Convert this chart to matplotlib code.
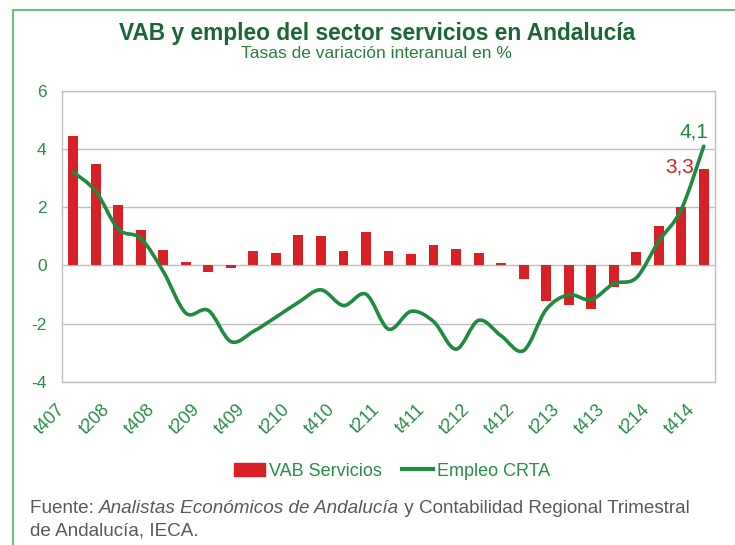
import numpy as np
import matplotlib
matplotlib.use('Agg')
import matplotlib.pyplot as plt
from matplotlib import font_manager
from matplotlib.path import Path
from matplotlib.patches import PathPatch, Rectangle, Patch
from matplotlib.lines import Line2D
from matplotlib.transforms import ScaledTranslation

# quarters t407 ... t414
quarters = ['t407'] + [f't{q}{y:02d}' for y in range(8, 15) for q in range(1, 5)]

vab = [4.46, 3.50, 2.09, 1.23, 0.54, 0.13, -0.24, -0.10, 0.51, 0.44,
       1.06, 1.02, 0.51, 1.16, 0.51, 0.40, 0.71, 0.57, 0.44, 0.09,
       -0.46, -1.22, -1.35, -1.49, -0.73, 0.47, 1.37, 2.00, 3.30]

empleo = [3.21, 2.55, 1.25, 0.93, -0.21, -1.64, -1.55, -2.62, -2.27, -1.78,
          -1.27, -0.84, -1.38, -0.99, -2.19, -1.58, -1.93, -2.88, -1.89, -2.42,
          -2.93, -1.52, -1.01, -1.18, -0.63, -0.43, 0.83, 1.92, 4.10]

yticks = [-4, -2, 0, 2, 4, 6]

RED = '#D82027'
GREEN = '#1E8B3F'
LABEL_GREEN = '#2A8C48'
TITLE_GREEN = '#1A6634'


def pick_font(names):
    for n in names:
        try:
            font_manager.findfont(n, fallback_to_default=False)
            return n
        except Exception:
            pass
    return 'DejaVu Sans'


sans = pick_font(['Liberation Sans', 'DejaVu Sans'])
plt.rcParams['font.family'] = sans


def smooth_path(x, y):
    # excel-like smoothed line: cubic bezier through every point
    n = len(x)
    verts = [(x[0], y[0])]
    codes = [Path.MOVETO]
    for i in range(n - 1):
        a = max(i - 1, 0)
        b = min(i + 2, n - 1)
        c1 = (x[i] + (x[i + 1] - x[a]) / 6, y[i] + (y[i + 1] - y[a]) / 6)
        c2 = (x[i + 1] - (x[b] - x[i]) / 6, y[i + 1] - (y[b] - y[i]) / 6)
        verts += [c1, c2, (x[i + 1], y[i + 1])]
        codes += [Path.CURVE4] * 3
    return Path(verts, codes)


fig = plt.figure(figsize=(7.35, 5.45), dpi=100)
ax = fig.add_axes([62 / 735, 1 - 381.7 / 545, 653 / 735, 290.7 / 545])

x = np.arange(len(quarters))
ax.bar(x, vab, width=0.44, color=RED, zorder=2)
ax.add_patch(PathPatch(smooth_path(x, empleo), fill=False, edgecolor=GREEN,
                       lw=2.6, zorder=3, capstyle='round'))

ax.set_xlim(-0.5, len(quarters) - 0.5)
ax.set_ylim(-4, 6)
ax.set_yticks(yticks)
ax.set_yticklabels([str(t) for t in yticks])
ax.grid(axis='y', color='#BFBFBF', lw=1, zorder=0)
ax.set_axisbelow(True)
for s in ax.spines.values():
    s.set_color('#BFBFBF')
    s.set_linewidth(1)

ax.tick_params(axis='y', length=0, pad=11, labelsize=12.5, labelcolor=LABEL_GREEN)
ax.tick_params(axis='x', length=0, pad=14, labelsize=13, labelcolor=LABEL_GREEN)
ax.set_xticks(x[::2])
ax.set_xticklabels(quarters[::2], rotation=45, ha='right', va='top')
shift = ScaledTranslation(-5 / 100, 0, fig.dpi_scale_trans)
for lab in ax.get_xticklabels():
    lab.set_transform(lab.get_transform() + shift)

# end labels
ax.annotate('4,1', (x[-1], empleo[-1]), xytext=(3.6, 6.5), textcoords='offset points',
            ha='right', va='baseline', color=GREEN, fontsize=15)
ax.annotate('3,3', (x[-1], vab[-1]), xytext=(-7.2, -2.5), textcoords='offset points',
            ha='right', va='baseline', color=RED, fontsize=15)

# titles
fig.text(377 / 735, 1 - 40 / 545, 'VAB y empleo del sector servicios en Andalucía',
         ha='center', va='baseline', fontsize=16.4, fontweight='bold',
         color=TITLE_GREEN)
fig.text(376 / 735, 1 - 58.5 / 545, 'Tasas de variación interanual en %',
         ha='center', va='baseline', fontsize=12.5, color='#2A7F3F')

# legend
handles = [Patch(color=RED, label='VAB Servicios'),
           Line2D([], [], color=GREEN, lw=3, label='Empleo CRTA')]
leg = fig.legend(handles=handles, loc='center', bbox_to_anchor=(392 / 735, 1 - 471 / 545),
                 ncol=2, frameon=False, fontsize=13, handlelength=1.7, handleheight=0.7,
                 handletextpad=0.25, columnspacing=1.1)
for t in leg.get_texts():
    t.set_color(LABEL_GREEN)

# source note, with the italic part
fig.canvas.draw()
r = fig.canvas.get_renderer()
y1 = 1 - 513 / 545
y2 = 1 - 535 / 545
x0 = 30 / 735
pieces = [('Fuente: ', 'normal'), ('Analistas Económicos de Andalucía', 'italic'),
          (' y Contabilidad Regional Trimestral', 'normal')]
for txt, st in pieces:
    t = fig.text(x0, y1, txt, ha='left', va='baseline', fontsize=13.6,
                 style=st, color='#595959')
    bb = t.get_window_extent(r)
    x0 = x0 + bb.width / fig.bbox.width
fig.text(30 / 735, y2, 'de Andalucía, IECA.', ha='left', va='baseline',
         fontsize=13.6, color='#595959')

# green outer frame
fig.patches.append(Rectangle((13 / 735, -0.1), 1.2, 1.1 - 10 / 545, transform=fig.transFigure,
                             fill=False, edgecolor='#6FBE82', lw=1.5))

fig.savefig('out.png', dpi=100)
